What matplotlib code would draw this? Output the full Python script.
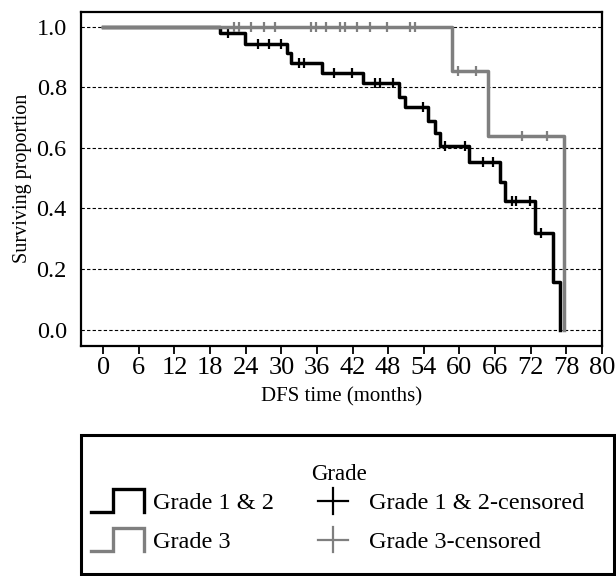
import numpy as np
import matplotlib
matplotlib.use("Agg")
import matplotlib.pyplot as plt
from matplotlib.lines import Line2D
from matplotlib.patches import Rectangle
from matplotlib.legend_handler import HandlerBase

plt.rcParams['font.family'] = ['Liberation Serif', 'DejaVu Serif']

# Grade 1 & 2: event times (months) and survival after each step
g12_times = [19.7, 23.9, 30.9, 31.7, 36.9, 43.7, 49.8, 50.9, 54.7, 55.9,
             56.7, 61.7, 66.9, 67.7, 72.7, 75.8, 76.9]
g12_surv = [0.978, 0.943, 0.912, 0.881, 0.848, 0.813, 0.769, 0.734, 0.689,
            0.648, 0.606, 0.554, 0.488, 0.425, 0.319, 0.157, 0.0]
g12_censored = [21.0, 26.0, 28.0, 29.9, 33.0, 33.8, 38.9, 41.9, 45.8, 46.7,
                48.8, 53.8, 57.6, 60.9, 63.9, 65.7, 68.8, 69.6, 71.9, 73.8]

# Grade 3
g3_times = [58.7, 64.9, 77.6]
g3_surv = [0.854, 0.640, 0.0]
g3_censored = [22.0, 22.8, 24.9, 27.0, 29.0, 35.0, 35.8, 37.6, 39.9, 40.7,
               42.7, 45.0, 47.8, 51.7, 52.6, 59.7, 62.8, 70.6, 74.8]

x_ticks = list(range(0, 85, 6))
x_ticklabels = [str(t) for t in range(0, 79, 6)] + ["80"]
y_ticks = [0.0, 0.2, 0.4, 0.6, 0.8, 1.0]

BLACK = "#000000"
GRAY = "#7f7f7f"


def surv_at(t, times, surv):
    # value of the step curve at time t
    idx = np.searchsorted(times, t, side="right")
    return 1.0 if idx == 0 else surv[idx - 1]


class StepHandler(HandlerBase):
    def create_artists(self, legend, orig_handle, xdescent, ydescent,
                       width, height, fontsize, trans):
        x0, y0 = -xdescent, -ydescent
        lo, hi = y0 - 0.2 * height, y0 + 1.15 * height
        xs = [x0, x0 + 0.41 * width, x0 + 0.41 * width, x0 + width, x0 + width]
        ys = [lo, lo, hi, hi, lo]
        ln = Line2D(xs, ys, color=orig_handle.get_color(), lw=2.4,
                    solid_joinstyle="miter", transform=trans)
        return [ln]


class CrossHandler(HandlerBase):
    def create_artists(self, legend, orig_handle, xdescent, ydescent,
                       width, height, fontsize, trans):
        x0, y0 = -xdescent, -ydescent
        cx, cy = x0 + 0.5 * width, y0 + 0.47 * height
        col = orig_handle.get_color()
        hl = Line2D([cx - 0.28 * width, cx + 0.28 * width], [cy, cy],
                    color=col, lw=1.6, transform=trans)
        vl = Line2D([cx, cx], [cy - 0.75 * height, cy + 0.75 * height],
                    color=col, lw=1.6, transform=trans)
        return [hl, vl]


fig = plt.figure(figsize=(6.16, 5.76), dpi=100)
ax = fig.add_axes([0.131, 0.399, 0.846, 0.581])

for y in y_ticks:
    ax.axhline(y, color="black", lw=0.8, ls=(0, (3, 2)), zorder=1)

# curves
for times, surv, cens, col, z in [(g12_times, g12_surv, g12_censored, BLACK, 3),
                                  (g3_times, g3_surv, g3_censored, GRAY, 4)]:
    xs = [0] + times
    ys = [1.0] + surv
    ax.step(xs, ys, where="post", color=col, lw=2.5, zorder=z)
    cy = [surv_at(t, times, surv) for t in cens]
    ax.plot(cens, cy, ls="none", marker="|", ms=6.5, mew=1.6, color=col, zorder=z)

ax.set_xlim(-3.8, 84)
ax.set_ylim(-0.055, 1.05)
ax.set_xticks(x_ticks)
ax.set_xticklabels(x_ticklabels, fontsize=19)
ax.set_yticks(y_ticks)
ax.set_yticklabels(["%.1f" % v for v in y_ticks], fontsize=17.5)
ax.tick_params(axis="x", direction="out", length=6, width=1.3, pad=2)
ax.tick_params(axis="y", length=0, pad=10)
for s in ax.spines.values():
    s.set_linewidth(1.6)

ax.set_xlabel("DFS time (months)", fontsize=15, labelpad=6)
ax.set_ylabel("Surviving proportion", fontsize=14.5, labelpad=3)

# legend box, title and entries
fig.patches.append(Rectangle((81 / 616, 1 - 574 / 576), 533 / 616, 139 / 576,
                             transform=fig.transFigure, fill=False,
                             edgecolor="black", lw=2.2))
fig.text(339 / 616, 1 - 475 / 576, "Grade", ha="center", va="center", fontsize=16.5)

h1 = Line2D([], [], color=BLACK)
h2 = Line2D([], [], color=GRAY)
h3 = Line2D([], [], color=BLACK)
h4 = Line2D([], [], color=GRAY)
leg = fig.legend([h1, h2, h3, h4],
                 ["Grade 1 & 2", "Grade 3", "Grade 1 & 2-censored", "Grade 3-censored"],
                 handler_map={h1: StepHandler(), h2: StepHandler(),
                              h3: CrossHandler(), h4: CrossHandler()},
                 ncol=2, fontsize=17.5, frameon=False,
                 loc="upper left", bbox_to_anchor=(91 / 616, 1 - 492 / 576),
                 borderpad=0, labelspacing=0.68, handlelength=2.2,
                 handletextpad=0.37, columnspacing=1.3, borderaxespad=0)

fig.savefig("out.png", dpi=100)
